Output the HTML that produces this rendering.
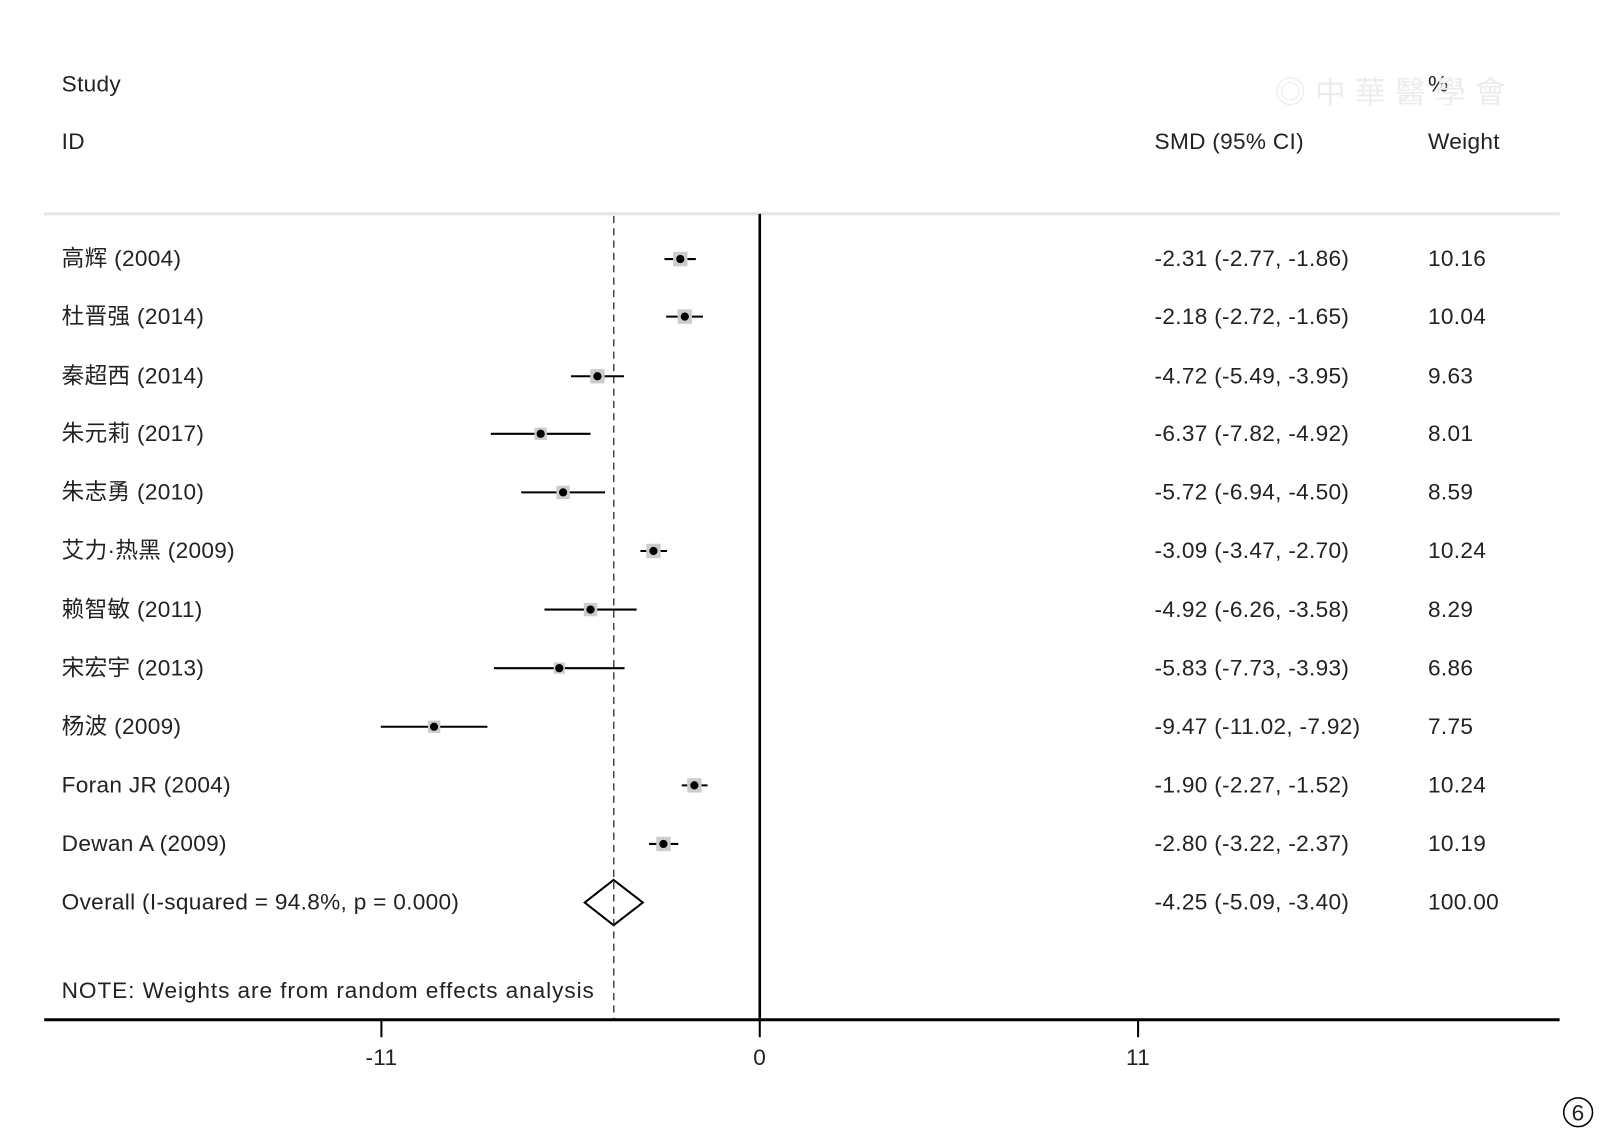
<!DOCTYPE html>
<html><head><meta charset="utf-8"><style>
html,body{margin:0;padding:0;background:#fff;}
svg{display:block;}
text{font-family:"Liberation Sans","Noto Sans CJK SC",sans-serif;font-size:22px;fill:#222;letter-spacing:0.3px;}
.l{letter-spacing:0.9px;}
</style></head><body>
<svg width="1610" height="1140" viewBox="0 0 1566 1109" preserveAspectRatio="none" xmlns="http://www.w3.org/2000/svg">
<rect width="1566" height="1109" fill="#fff"/>
<text x="60" y="89">Study</text>
<text x="60" y="145">ID</text>
<text x="1123" y="145">SMD (95% CI)</text>
<text x="1389" y="89">%</text>
<text x="1389" y="145">Weight</text>
<text x="1240" y="100" style="fill:#ececec;font-size:30px">◎ 中 華 醫 學 會</text>
<line x1="43" y1="208" x2="1517" y2="208" stroke="#e6e6e6" stroke-width="3"/>
<line x1="739" y1="208" x2="739" y2="992" stroke="#000" stroke-width="2.5"/>
<line x1="597" y1="210" x2="597" y2="992" stroke="#333" stroke-width="1.3" stroke-dasharray="7,5"/>
<line x1="43" y1="992" x2="1517" y2="992" stroke="#000" stroke-width="3"/>
<line x1="371" y1="992" x2="371" y2="1009" stroke="#000" stroke-width="2"/>
<line x1="739" y1="992" x2="739" y2="1009" stroke="#000" stroke-width="2"/>
<line x1="1107" y1="992" x2="1107" y2="1009" stroke="#000" stroke-width="2"/>
<text x="371" y="1036" text-anchor="middle">-11</text>
<text x="739" y="1036" text-anchor="middle">0</text>
<text x="1107" y="1036" text-anchor="middle">11</text>
<text class="l" x="60" y="971">NOTE: Weights are from random effects analysis</text>
<g stroke="#000" stroke-width="2">
<line x1="646.3" y1="252" x2="676.8" y2="252"/>
<line x1="648" y1="308" x2="683.8" y2="308"/>
<line x1="555.4" y1="366" x2="606.9" y2="366"/>
<line x1="477.4" y1="422" x2="574.4" y2="422"/>
<line x1="506.9" y1="479" x2="588.5" y2="479"/>
<line x1="622.9" y1="536" x2="648.7" y2="536"/>
<line x1="529.6" y1="593" x2="619.2" y2="593"/>
<line x1="480.4" y1="650" x2="607.5" y2="650"/>
<line x1="370.4" y1="707" x2="474.1" y2="707"/>
<line x1="663.1" y1="764" x2="688.2" y2="764"/>
<line x1="631.3" y1="821" x2="659.7" y2="821"/>
</g>
<g fill="#ccc">
<rect x="654.7" y="245" width="14" height="14"/>
<rect x="659.1" y="301" width="14" height="14"/>
<rect x="574.1" y="359" width="14" height="14"/>
<rect x="519.9" y="416" width="12" height="12"/>
<rect x="541.2" y="472.5" width="13" height="13"/>
<rect x="628.6" y="529" width="14" height="14"/>
<rect x="567.9" y="586.5" width="13" height="13"/>
<rect x="538.5" y="644.5" width="11" height="11"/>
<rect x="416.2" y="701" width="12" height="12"/>
<rect x="668.4" y="757" width="14" height="14"/>
<rect x="638.3" y="814" width="14" height="14"/>
</g>
<g fill="#000">
<circle cx="661.7" cy="252" r="4"/>
<circle cx="666.1" cy="308" r="4"/>
<circle cx="581.1" cy="366" r="4"/>
<circle cx="525.9" cy="422" r="4"/>
<circle cx="547.7" cy="479" r="4"/>
<circle cx="635.6" cy="536" r="4"/>
<circle cx="574.4" cy="593" r="4"/>
<circle cx="544" cy="650" r="4"/>
<circle cx="422.2" cy="707" r="4"/>
<circle cx="675.4" cy="764" r="4"/>
<circle cx="645.3" cy="821" r="4"/>
</g>
<polygon points="568.7,878 596.8,856 625.3,878 596.8,900" fill="none" stroke="#000" stroke-width="2"/>
<g class="l">
<text x="60" y="259">高辉 (2004)</text>
<text x="60" y="315">杜晋强 (2014)</text>
<text x="60" y="373">秦超西 (2014)</text>
<text x="60" y="429">朱元莉 (2017)</text>
<text x="60" y="486">朱志勇 (2010)</text>
<text x="60" y="543">艾力·热黑 (2009)</text>
<text x="60" y="600">赖智敏 (2011)</text>
<text x="60" y="657">宋宏宇 (2013)</text>
<text x="60" y="714">杨波 (2009)</text>
<text x="60" y="771">Foran JR (2004)</text>
<text x="60" y="828">Dewan A (2009)</text>
<text x="60" y="885">Overall  (I-squared = 94.8%, p = 0.000)</text>
</g>
<g>
<text x="1123" y="259">-2.31 (-2.77, -1.86)</text>
<text x="1123" y="315">-2.18 (-2.72, -1.65)</text>
<text x="1123" y="373">-4.72 (-5.49, -3.95)</text>
<text x="1123" y="429">-6.37 (-7.82, -4.92)</text>
<text x="1123" y="486">-5.72 (-6.94, -4.50)</text>
<text x="1123" y="543">-3.09 (-3.47, -2.70)</text>
<text x="1123" y="600">-4.92 (-6.26, -3.58)</text>
<text x="1123" y="657">-5.83 (-7.73, -3.93)</text>
<text x="1123" y="714">-9.47 (-11.02, -7.92)</text>
<text x="1123" y="771">-1.90 (-2.27, -1.52)</text>
<text x="1123" y="828">-2.80 (-3.22, -2.37)</text>
<text x="1123" y="885">-4.25 (-5.09, -3.40)</text>
</g>
<g>
<text x="1389" y="259">10.16</text>
<text x="1389" y="315">10.04</text>
<text x="1389" y="373">9.63</text>
<text x="1389" y="429">8.01</text>
<text x="1389" y="486">8.59</text>
<text x="1389" y="543">10.24</text>
<text x="1389" y="600">8.29</text>
<text x="1389" y="657">6.86</text>
<text x="1389" y="714">7.75</text>
<text x="1389" y="771">10.24</text>
<text x="1389" y="828">10.19</text>
<text x="1389" y="885">100.00</text>
</g>
<circle cx="1535" cy="1082" r="14" fill="none" stroke="#000" stroke-width="1.5"/>
<text x="1535" y="1090" text-anchor="middle" style="font-size:22px">6</text>
</svg>
</body></html>
